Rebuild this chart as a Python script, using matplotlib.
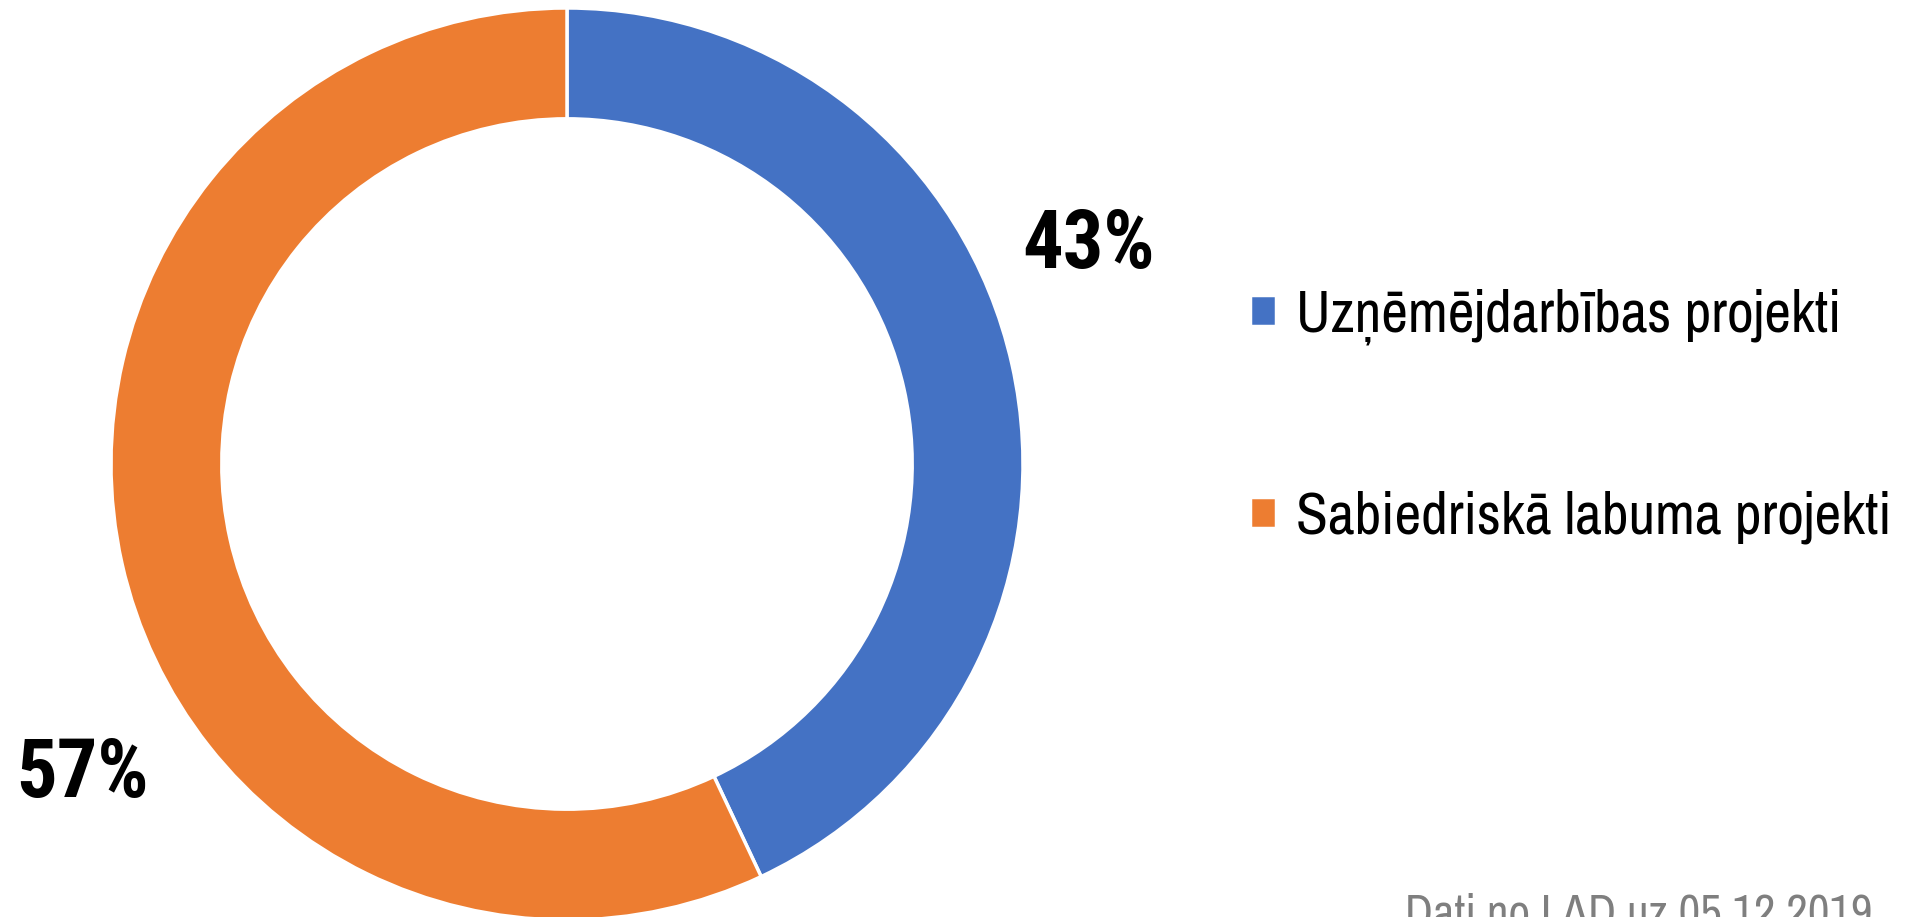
import matplotlib
matplotlib.use("Agg")
import matplotlib.pyplot as plt
from matplotlib import font_manager

# data
categories = ["Uzņēmējdarbības projekti", "Sabiedriskā labuma projekti"]
shares = [43, 57]
colors = ["#4472C4", "#ED7D31"]
source_note = "Dati no LAD uz 05.12.2019"

# Arial Narrow look-alike, falls back to condensed DejaVu
names = {f.name for f in font_manager.fontManager.ttflist}
narrow = [n for n in ["Archivo Narrow", "PT Sans Narrow"] if n in names]
narrow_bold = [n for n in ["Roboto Condensed", "PT Sans Narrow", "Archivo Narrow"] if n in names]
plt.rcParams["font.family"] = narrow + ["DejaVu Sans"]
plt.rcParams["font.stretch"] = "condensed"

W, H = 1905, 917
fig = plt.figure(figsize=(W / 100, H / 100), dpi=100)

# donut placed in pixel coordinates
cx, cy, r = 567, 464, 456
ax = fig.add_axes([(cx - r) / W, (H - cy - r) / H, 2 * r / W, 2 * r / H])
wedges, _ = ax.pie(
    shares, colors=colors, startangle=90, counterclock=False,
    radius=1, wedgeprops=dict(width=0.243, edgecolor="white", linewidth=2.5),
)
ax.set_xlim(-1, 1)
ax.set_ylim(-1, 1)
ax.set_aspect("equal")
ax.axis("off")

# percent labels
label_pos = [(1089, 246), (82, 775)]
for val, (px, py) in zip(shares, label_pos):
    fig.text(px / W, 1 - py / H, f"{val}%", fontsize=58, fontweight="bold",
             family=narrow_bold + ["DejaVu Sans"],
             ha="center", va="center", color="black")

# legend
fig.legend(
    wedges, categories, loc="center left",
    bbox_to_anchor=(1250 / W, 1 - 416 / H), frameon=False,
    fontsize=42, handlelength=0.45, handleheight=0.45,
    handletextpad=0.33, labelspacing=2.5, borderpad=0, borderaxespad=0,
)

# source note, cut off at the bottom edge like the original
fig.text(1405 / W, 1 - 892 / H, source_note, fontsize=34, color="#7F7F7F",
         ha="left", va="top")

fig.savefig("out.png", dpi=100)
